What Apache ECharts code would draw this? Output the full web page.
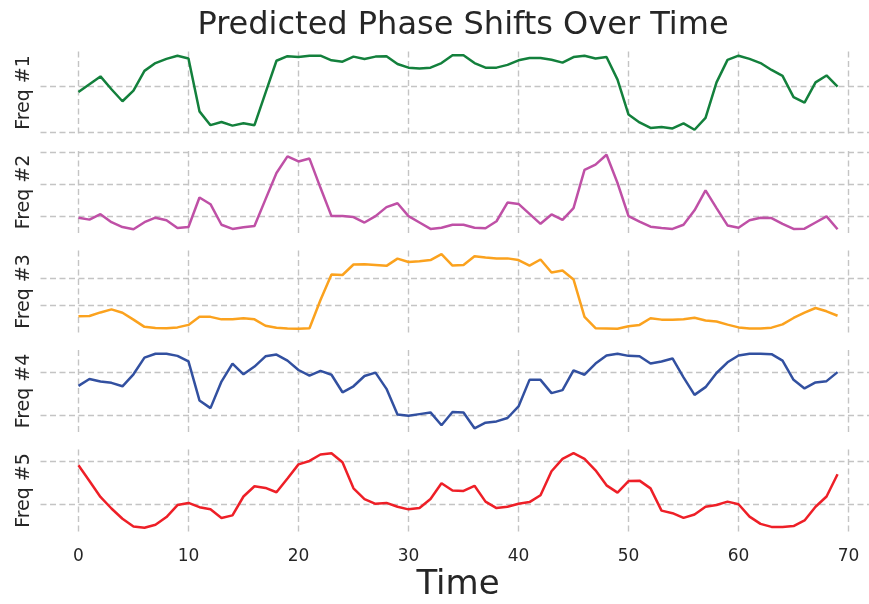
<!DOCTYPE html>
<html><head><meta charset="utf-8">
<script src="https://cdn.jsdelivr.net/npm/echarts@6/dist/echarts.min.js"></script>
<style>html,body{margin:0;padding:0;background:#fff}#c{width:869px;height:604px}</style>
</head><body><div id="c"></div>
<script>
const time = [0,1,2,3,4,5,6,7,8,9,10,11,12,13,14,15,16,17,18,19,20,21,22,23,24,25,26,27,28,29,30,31,32,33,34,35,36,37,38,39,40,41,42,43,44,45,46,47,48,49,50,51,52,53,54,55,56,57,58,59,60,61,62,63,64,65,66,67,68,69];
const xTicks = [0,10,20,30,40,50,60,70];
const seriesNames = ['Freq #1','Freq #2','Freq #3','Freq #4','Freq #5'];

const freq1 = [0.88,1.05,1.22,0.94,0.68,0.91,1.34,1.51,1.60,1.67,
  1.61,0.46,0.16,0.23,0.15,0.20,0.16,0.86,1.56,1.66,
  1.64,1.67,1.67,1.57,1.54,1.65,1.60,1.65,1.66,1.49,
  1.41,1.39,1.41,1.51,1.68,1.68,1.51,1.41,1.41,1.47,
  1.57,1.62,1.62,1.58,1.52,1.64,1.67,1.61,1.64,1.15,
  0.39,0.22,0.10,0.12,0.09,0.20,0.06,0.32,1.09,1.58,
  1.67,1.60,1.51,1.36,1.23,0.77,0.65,1.09,1.24,1.00];
const freq2 = [-0.05,-0.11,0.06,-0.19,-0.34,-0.41,-0.19,-0.05,-0.13,-0.37,
  -0.34,0.58,0.37,-0.27,-0.40,-0.35,-0.31,0.52,1.34,1.86,
  1.70,1.79,0.88,0.00,0.00,-0.03,-0.20,0.00,0.28,0.40,
  0.00,-0.20,-0.40,-0.36,-0.27,-0.27,-0.36,-0.38,-0.16,0.42,
  0.38,0.07,-0.24,0.05,-0.12,0.25,1.44,1.60,1.91,1.03,
  0.00,-0.17,-0.33,-0.37,-0.40,-0.27,0.18,0.80,0.25,-0.29,
  -0.36,-0.13,-0.05,-0.06,-0.24,-0.40,-0.39,-0.20,-0.01,-0.41];
const freq3 = [-0.39,-0.38,-0.25,-0.14,-0.26,-0.51,-0.77,-0.81,-0.82,-0.79,
  -0.70,-0.41,-0.41,-0.50,-0.50,-0.46,-0.50,-0.73,-0.80,-0.83,
  -0.84,-0.82,0.20,1.12,1.10,1.48,1.49,1.46,1.43,1.69,
  1.57,1.60,1.64,1.85,1.44,1.46,1.78,1.73,1.70,1.70,
  1.64,1.44,1.66,1.19,1.26,0.94,-0.41,-0.82,-0.83,-0.84,
  -0.75,-0.70,-0.46,-0.51,-0.51,-0.50,-0.44,-0.54,-0.58,-0.69,
  -0.79,-0.83,-0.83,-0.80,-0.68,-0.45,-0.26,-0.09,-0.21,-0.37];
const freq4 = [0.68,0.84,0.78,0.75,0.67,0.95,1.34,1.43,1.43,1.38,
  1.25,0.34,0.16,0.78,1.20,0.95,1.13,1.37,1.41,1.27,
  1.05,0.92,1.03,0.94,0.53,0.67,0.91,0.99,0.61,0.01,
  -0.02,0.02,0.06,-0.24,0.07,0.06,-0.31,-0.18,-0.15,-0.07,
  0.20,0.82,0.82,0.51,0.58,1.04,0.94,1.20,1.39,1.43,
  1.38,1.37,1.20,1.25,1.32,0.88,0.47,0.65,0.98,1.23,
  1.39,1.43,1.43,1.42,1.27,0.82,0.62,0.76,0.79,1.00];
const freq5 = [0.91,0.54,0.17,-0.10,-0.34,-0.52,-0.55,-0.48,-0.30,-0.02,
  0.03,-0.07,-0.12,-0.32,-0.26,0.18,0.42,0.38,0.28,0.60,
  0.93,1.01,1.16,1.19,0.98,0.37,0.12,0.01,0.03,-0.06,
  -0.12,-0.09,0.12,0.49,0.32,0.31,0.43,0.06,-0.09,-0.06,
  0.01,0.05,0.21,0.77,1.06,1.19,1.06,0.79,0.44,0.27,
  0.54,0.55,0.37,-0.15,-0.21,-0.32,-0.24,-0.06,-0.02,0.06,
  0.00,-0.29,-0.46,-0.53,-0.53,-0.51,-0.38,-0.06,0.18,0.70];
const yTicks1 = [0,1];
const yTicks2 = [0,1,2];
const yTicks3 = [0,1];
const yTicks4 = [0,1];
const yTicks5 = [0,1];

const allSeries = [freq1,freq2,freq3,freq4,freq5];
const allTicks = [yTicks1,yTicks2,yTicks3,yTicks4,yTicks5];
const colors = ['#13803c','#bf50a6','#fba21e','#3250a0','#ee1f27'];
const FONT = 'DejaVu Sans';
const TXT = '#262626';
const gridTops = [51.5,151,250.5,350,449.5];
const gridH = 82;

function padExtent(arr){
  const lo = Math.min.apply(null,arr), hi = Math.max.apply(null,arr);
  const m = (hi-lo)*0.05;
  return [lo-m, hi+m];
}
const xExt = padExtent(time);
const splitStyle = {color:'#c4c4c4', width:1.4, type:[6,3.5]};

const grids=[], xAxes=[], yAxes=[], series=[];
allSeries.forEach((arr,i)=>{
  const last = i===allSeries.length-1;
  grids.push({left:40.5, top:gridTops[i], width:835, height:gridH, outerBoundsMode:'none', containLabel:false});
  xAxes.push({
    type:'value', gridIndex:i, min:xExt[0], max:xExt[1],
    axisLine:{show:false}, axisTick:{show:false, customValues:xTicks},
    axisLabel:{show:last, customValues:xTicks, fontSize:17, color:TXT, fontFamily:FONT, margin:17},
    splitLine:{show:true, lineStyle:splitStyle},
    name: last ? 'Time' : '', nameLocation:'middle', nameGap:37,
    nameTextStyle:{fontSize:34, color:TXT, fontFamily:FONT}
  });
  const ye = padExtent(arr);
  yAxes.push({
    type:'value', gridIndex:i, min:ye[0], max:ye[1],
    axisLine:{show:false}, axisTick:{show:false, customValues:allTicks[i]},
    axisLabel:{show:false, customValues:allTicks[i]},
    splitLine:{show:true, lineStyle:splitStyle},
    name: seriesNames[i], nameLocation:'middle', nameGap:7, nameRotate:90,
    nameTextStyle:{fontSize:19, color:TXT, fontFamily:FONT}
  });
  series.push({
    type:'line', name:seriesNames[i], xAxisIndex:i, yAxisIndex:i,
    data: time.map((t,j)=>[t, arr[j]]),
    showSymbol:false, symbol:'none', smooth:false,
    lineStyle:{width:2.5, color:colors[i]}, itemStyle:{color:colors[i]}
  });
});

const chart = echarts.init(document.getElementById('c'), null, {renderer:'canvas'});
chart.setOption({
  animation:false,
  backgroundColor:'#ffffff',
  textStyle:{fontFamily:FONT},
  title:{text:'Predicted Phase Shifts Over Time', left:458, top:5, textAlign:'center',
    textStyle:{fontSize:32, fontWeight:'normal', color:TXT, fontFamily:FONT}},
  grid:grids, xAxis:xAxes, yAxis:yAxes, series:series
});
</script></body></html>
